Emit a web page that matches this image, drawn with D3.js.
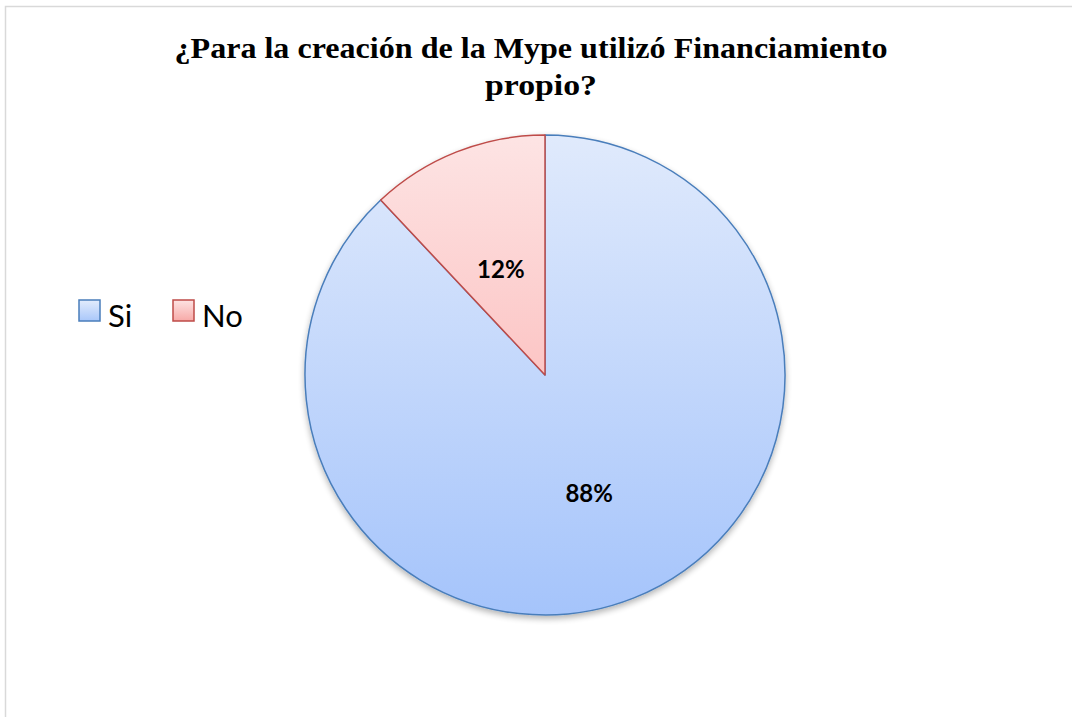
<!DOCTYPE html>
<html>
<head>
<meta charset="utf-8">
<script src="https://cdn.jsdelivr.net/npm/d3@7"></script>
<style>
  body { margin: 0; background: #fff; }
  svg { display: block; }
</style>
</head>
<body>
<script>
(function(){

  //chart data
  var categories = ["Si", "No"];
  var values = [88, 12];
  var labels = ["88%", "12%"];
  var titleLines = ["¿Para la creación de la Mype utilizó Financiamiento", "propio?"];

  var width = 1072, height = 717;
  var cx = 545, cy = 375, radius = 240;

  var svg = d3.select("body")
    .append("svg")
    .attr("width", width)
    .attr("height", height);

  //gradients and shadow
  var defs = svg.append("defs");
  var gradColors = [["#e0eafc", "#a5c4fb"], ["#fde4e4", "#fba6a5"]];
  gradColors.forEach(function(c, i){
    var g = defs.append("linearGradient")
      .attr("id", "grad" + i)
      .attr("gradientUnits", "userSpaceOnUse")
      .attr("x1", 0).attr("y1", -radius)
      .attr("x2", 0).attr("y2", radius);
    g.append("stop").attr("offset", "0%").attr("stop-color", c[0]);
    g.append("stop").attr("offset", "100%").attr("stop-color", c[1]);
  });
  var legGrad = [["#e3ecfc", "#a9c7fa"], ["#fde3e3", "#f7a9a7"]];
  legGrad.forEach(function(c, i){
    var g = defs.append("linearGradient")
      .attr("id", "lgrad" + i)
      .attr("x1", 0).attr("y1", 0).attr("x2", 0).attr("y2", 1);
    g.append("stop").attr("offset", "0%").attr("stop-color", c[0]);
    g.append("stop").attr("offset", "100%").attr("stop-color", c[1]);
  });
  var shadow = defs.append("filter").attr("id", "shadow")
    .attr("x", "-10%").attr("y", "-10%").attr("width", "120%").attr("height", "125%");
  shadow.append("feGaussianBlur").attr("in", "SourceAlpha").attr("stdDeviation", 3);
  shadow.append("feOffset").attr("dx", 0).attr("dy", 3).attr("result", "b");
  shadow.append("feComponentTransfer").append("feFuncA").attr("type", "linear").attr("slope", 0.3);
  var merge = shadow.append("feMerge");
  merge.append("feMergeNode");
  merge.append("feMergeNode").attr("in", "SourceGraphic");

  //chart border
  svg.append("rect")
    .attr("x", 5.5).attr("y", 6.5)
    .attr("width", width + 10).attr("height", height + 10)
    .attr("fill", "none")
    .attr("stroke", "#d9d9d9")
    .attr("stroke-width", 1.5);

  //title
  var titleX = [531, 541], titleLen = [713, 112];
  svg.append("g")
    .attr("font-family", "'Liberation Serif', 'Times New Roman', serif")
    .attr("font-weight", "bold")
    .attr("font-size", "30px")
    .selectAll("text")
    .data(titleLines)
    .enter()
    .append("text")
    .attr("text-anchor", "middle")
    .attr("x", function(d, i){ return titleX[i]; })
    .attr("y", function(d, i){ return 58 + i * 37; })
    .attr("textLength", function(d, i){ return titleLen[i]; })
    .attr("lengthAdjust", "spacingAndGlyphs")
    .text(function(d){ return d; });

  var strokes = ["#4a7ebb", "#be4b48"];

  //pie: Si starts at 12 o'clock clockwise, No closes the circle
  var pie = d3.pie()
    .sort(null)
    .value(function(d){ return d; });

  var arc = d3.arc().innerRadius(0).outerRadius(radius);

  var g = svg.append("g")
    .attr("transform", "translate(" + cx + "," + cy + ")")
    .attr("filter", "url(#shadow)");

  var arcs = pie(values);

  g.selectAll("path")
    .data(arcs)
    .enter()
    .append("path")
    .attr("d", arc)
    .attr("fill", function(d, i){ return "url(#grad" + i + ")"; })
    .attr("stroke", function(d, i){ return strokes[i]; })
    .attr("stroke-width", 1.5)
    .attr("stroke-linejoin", "round");

  //data labels
  svg.append("g")
    .attr("transform", "translate(" + cx + "," + cy + ")")
    .selectAll("text")
    .data(arcs)
    .enter()
    .append("text")
    .attr("transform", function(d){
      var c = arc.centroid(d);
      return "translate(" + c[0] + "," + (c[1] + 15) + ")";
    })
    .attr("text-anchor", "middle")
    .attr("font-family", "Lato, 'Open Sans', sans-serif")
    .attr("font-weight", "bold")
    .attr("font-size", "24px")
    .attr("fill", "#000")
    .text(function(d, i){ return labels[i]; });

  //legend
  var legX = [79, 173];
  var legend = svg.append("g");
  var items = legend.selectAll("g")
    .data(categories)
    .enter()
    .append("g")
    .attr("transform", function(d, i){ return "translate(" + legX[i] + ",300)"; });

  items.append("rect")
    .attr("width", 21).attr("height", 21)
    .attr("fill", function(d, i){ return "url(#lgrad" + i + ")"; })
    .attr("stroke", function(d, i){ return strokes[i]; })
    .attr("stroke-width", 1.5);

  items.append("text")
    .attr("x", 29)
    .attr("y", 27)
    .attr("font-family", "Lato, 'Open Sans', sans-serif")
    .attr("font-size", "31px")
    .attr("fill", "#000")
    .text(function(d){ return d; });

})();
</script>
</body>
</html>
